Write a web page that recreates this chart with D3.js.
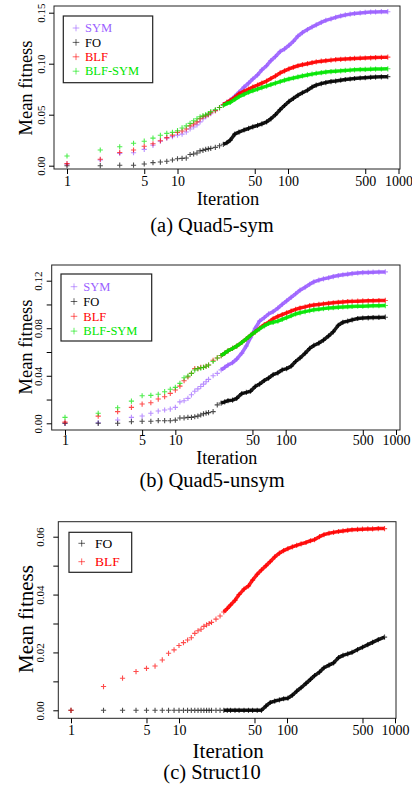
<!DOCTYPE html>
<html>
<head>
<meta charset="utf-8">
<title>Mean fitness per iteration</title>
<style>
  body { margin: 0; background: #fff; }
  svg text { font-family: "Liberation Serif", "Times New Roman", serif; fill: #000; }
</style>
</head>
<body>
<script src="https://cdn.jsdelivr.net/npm/d3@7"></script>
<script>
// iterations sampled (every one where the crosses are apart, sparser where they merge)
var iterations = [1,2,3,4,5,6,7,8,9,10,
    11,12,13,14,15,16,17,18,19,20,
    22,24,26,28,30,
    33,36,40,44,48,53,58,64,70,77,
    85,93,102,112,123,135,150,165,180,200,
    220,245,270,300,330,365,400,450,500,560,
    620,700,800];

var xTicks = [1, 5, 10, 50, 100, 500, 1000];

// (a) Quad5-sym
var quad5symSYM = [0.0015,0.0056,0.012,0.0127,0.016,0.020,0.024,0.027,0.0285,0.030,
    0.031,0.033,0.036,0.038,0.040,0.043,0.046,0.048,0.050,0.051,
    0.054,0.057,0.060,0.062,0.064,
    0.068,0.072,0.077,0.081,0.085,0.089,0.094,0.098,0.103,0.107,
    0.112,0.1145,0.118,0.122,0.127,0.1305,0.1335,0.136,0.138,0.1405,
    0.1425,0.144,0.1455,0.1468,0.1478,0.1486,0.1492,0.1498,0.1503,0.1506,
    0.1508,0.151,0.151];
var quad5symFO = [0,0,0.0005,0.0005,0.0017,0.003,0.0036,0.0043,0.0056,0.0068,
    0.0072,0.0075,0.011,0.0115,0.0125,0.0145,0.015,0.016,0.0165,0.017,
    0.018,0.0195,0.021,0.0225,0.025,
    0.031,0.033,0.035,0.0365,0.038,0.0395,0.041,0.043,0.046,0.050,
    0.055,0.059,0.063,0.066,0.069,0.0715,0.074,0.077,0.079,0.0805,
    0.0815,0.0825,0.083,0.0838,0.0845,0.085,0.0855,0.086,0.0863,0.0866,
    0.0869,0.0871,0.0873];
var quad5symBLF = [0.002,0.0063,0.013,0.0154,0.019,0.0215,0.0245,0.0275,0.030,0.0327,
    0.034,0.036,0.039,0.041,0.043,0.046,0.048,0.049,0.050,0.052,
    0.054,0.057,0.060,0.062,0.064,
    0.067,0.0705,0.073,0.075,0.077,0.079,0.081,0.083,0.0855,0.088,
    0.091,0.093,0.095,0.0965,0.098,0.099,0.100,0.101,0.1018,0.1025,
    0.103,0.1035,0.104,0.1043,0.1046,0.1049,0.1052,0.1054,0.1056,0.1058,
    0.106,0.1062,0.1064];
var quad5symBLFSYM = [0.0095,0.0154,0.0186,0.022,0.024,0.027,0.0298,0.0317,0.0327,0.0343,
    0.037,0.039,0.0415,0.044,0.046,0.048,0.049,0.050,0.051,0.053,
    0.055,0.057,0.059,0.061,0.062,
    0.065,0.0676,0.070,0.072,0.0735,0.075,0.0765,0.078,0.0795,0.081,
    0.0825,0.0838,0.085,0.086,0.087,0.088,0.089,0.0898,0.0905,0.0912,
    0.0918,0.0923,0.0927,0.093,0.0934,0.0937,0.094,0.0942,0.0944,0.0946,
    0.0947,0.0948,0.095];

// (b) Quad5-unsym
var quad5unsymSYM = [0,0.0005,0.0028,0.005,0.0061,0.0084,0.0103,0.0112,0.012,0.0134,
    0.018,0.019,0.021,0.024,0.027,0.029,0.031,0.033,0.035,0.037,
    0.040,0.042,0.045,0.047,0.049,
    0.051,0.054,0.059,0.065,0.072,0.080,0.086,0.089,0.092,0.094,
    0.097,0.100,0.103,0.106,0.109,0.112,0.1145,0.117,0.119,0.1205,
    0.1215,0.1225,0.1235,0.1243,0.125,0.1255,0.126,0.1265,0.1268,0.127,
    0.1272,0.1273,0.1274];
var quad5unsymFO = [0,0,0,0.0013,0.0017,0.0017,0.0022,0.0022,0.0022,0.0027,
    0.0045,0.0045,0.005,0.005,0.0055,0.006,0.007,0.008,0.0085,0.009,
    0.0098,0.0155,0.017,0.018,0.019,
    0.0195,0.021,0.025,0.026,0.027,0.031,0.033,0.036,0.038,0.041,
    0.0425,0.045,0.046,0.048,0.052,0.055,0.059,0.063,0.0655,0.0675,
    0.070,0.0735,0.077,0.0825,0.085,0.086,0.087,0.0882,0.0886,0.0888,
    0.089,0.0891,0.0893];
var quad5unsymBLF = [0.001,0.006,0.0098,0.0134,0.0162,0.0173,0.0204,0.0224,0.0252,0.028,
    0.0313,0.0358,0.039,0.042,0.046,0.046,0.047,0.047,0.048,0.049,
    0.053,0.055,0.057,0.059,0.061,
    0.063,0.065,0.068,0.071,0.074,0.077,0.080,0.083,0.085,0.088,
    0.090,0.0915,0.093,0.0945,0.0958,0.097,0.098,0.099,0.0995,0.100,
    0.1005,0.101,0.1014,0.1018,0.1021,0.1024,0.1026,0.1028,0.103,0.1031,
    0.1032,0.1033,0.1034];
var quad5unsymBLFSYM = [0.005,0.0084,0.0131,0.0187,0.0232,0.0235,0.0244,0.0266,0.0286,0.0302,
    0.0336,0.0383,0.0397,0.042,0.0448,0.046,0.0465,0.047,0.048,0.049,
    0.052,0.055,0.057,0.059,0.061,
    0.063,0.065,0.068,0.071,0.074,0.077,0.0795,0.082,0.084,0.085,
    0.086,0.0875,0.089,0.0905,0.092,0.093,0.094,0.0948,0.0955,0.096,
    0.0965,0.097,0.0973,0.0976,0.0979,0.0981,0.0983,0.0985,0.0986,0.0988,
    0.0989,0.099,0.0991];

// (c) Struct10
var struct10FO = [0,0,0,0,0,0,0,0,0,0,
    0,0,0,0,0,0,0,0,0,0,
    0,0,0,0,0,
    0,0,0,0,0,0,0,0.0015,0.0027,0.0032,
    0.0036,0.004,0.0042,0.0052,0.0066,0.0078,0.0093,0.0107,0.012,0.0132,
    0.0147,0.0156,0.0164,0.0182,0.019,0.0195,0.020,0.021,0.0218,0.0227,
    0.0235,0.0244,0.0253];
var struct10BLF = [0,0.0082,0.0111,0.0134,0.0145,0.0153,0.0174,0.0197,0.0209,0.0224,
    0.0234,0.0243,0.0251,0.0266,0.0275,0.028,0.029,0.0295,0.030,0.0304,
    0.0315,0.0326,0.034,0.0352,0.0364,
    0.038,0.040,0.0419,0.043,0.045,0.047,0.0485,0.050,0.0514,0.053,
    0.0543,0.0552,0.0559,0.0565,0.057,0.0575,0.058,0.0586,0.059,0.060,
    0.0607,0.0612,0.0615,0.0618,0.062,0.0622,0.0624,0.0625,0.0626,0.0627,
    0.0627,0.0628,0.0628];

var colors = { "SYM": "rgb(155,95,255)", "FO": "#000000", "BLF": "#ff0000", "BLF-SYM": "#00e600" };

// crosses merge into a band from here on
var denseFrom = 26;

var panels = [
    { caption: "(a) Quad5-sym",
      series: [["SYM", quad5symSYM], ["FO", quad5symFO], ["BLF", quad5symBLF], ["BLF-SYM", quad5symBLFSYM]],
      yDomain: [0, 0.15], yTicks: [0, 0.05, 0.10, 0.15], yLabels: [0, 0.05, 0.10, 0.15],
      box: { l: 54, r: 400, t: 6, b: 169 }, yRange: [165.7, 12.7], xRange: [67, 398.5],
      ytx: 44.5, xtb: 186, titleX: 32, titleY: 88, titleFs: 18.5, iterFs: 18.5, iterY: 204.5, capY: 232,
      legend: { x: 63.3, y: 16, w: 89.4, h: 66.7, row0: 28, step: 14.4, mx: 76, tx: 85, fs: 12.5 } },
    { caption: "(b) Quad5-unsym",
      series: [["SYM", quad5unsymSYM], ["FO", quad5unsymFO], ["BLF", quad5unsymBLF], ["BLF-SYM", quad5unsymBLFSYM]],
      yDomain: [0, 0.12], yTicks: [0, 0.02, 0.04, 0.06, 0.08, 0.10, 0.12], yLabels: [0, 0.04, 0.08, 0.12],
      box: { l: 51.7, r: 400, t: 265, b: 430 }, yRange: [423.3, 280.7], xRange: [65, 396],
      ytx: 42, xtb: 444.5, titleX: 32, titleY: 347, titleFs: 18.5, iterFs: 18, iterY: 464, capY: 487,
      legend: { x: 61, y: 274, w: 90.7, h: 67, row0: 286.7, step: 14.8, mx: 74, tx: 83.3, fs: 12.5 } },
    { caption: "(c) Struct10",
      series: [["FO", struct10FO], ["BLF", struct10BLF]],
      yDomain: [0, 0.06], yTicks: [0, 0.01, 0.02, 0.03, 0.04, 0.05, 0.06], yLabels: [0, 0.02, 0.04, 0.06],
      box: { l: 58.3, r: 396, t: 521.7, b: 718.3 }, yRange: [710.3, 536.7], xRange: [71, 395],
      ytx: 44, xtb: 735.5, titleX: 33, titleY: 619, titleFs: 21, iterFs: 21, iterY: 757.5, capY: 779,
      legend: { x: 69, y: 532.3, w: 62.7, h: 40, row0: 543.3, step: 18.4, mx: 81.7, tx: 95, fs: 13.5 } }
];

function plus(r) {
    var p = d3.path();
    p.moveTo(-r, 0); p.lineTo(r, 0);
    p.moveTo(0, -r); p.lineTo(0, r);
    return p.toString();
}

var svg = d3.select("body").append("svg")
    .attr("width", 412)
    .attr("height", 787);

var fmt2 = d3.format(".2f");

panels.forEach(function(P) {
    var x = d3.scaleLog().domain([1, 1000]).range(P.xRange);
    var y = d3.scaleLinear().domain(P.yDomain).range(P.yRange);
    var g = svg.append("g");

    // points, drawn in legend order
    P.series.forEach(function(s) {
        var name = s[0], vals = s[1];
        var pts = iterations.map(function(it, i) { return { it: it, v: vals[i] }; });
        g.append("path")
            .datum(pts.filter(function(d) { return d.it >= denseFrom; }))
            .attr("fill", "none")
            .attr("stroke", colors[name])
            .attr("stroke-opacity", 0.9)
            .attr("stroke-width", 3.5)
            .attr("stroke-linejoin", "round")
            .attr("d", d3.line().x(function(d) { return x(d.it); }).y(function(d) { return y(d.v); }));
        g.selectAll(null).data(pts).enter().append("path")
            .attr("transform", function(d) { return "translate(" + x(d.it) + "," + y(d.v) + ")"; })
            .attr("d", plus(2.6))
            .attr("fill", "none")
            .attr("stroke", colors[name])
            .attr("stroke-opacity", 0.7)
            .attr("stroke-width", 1.1);
    });

    // frame
    g.append("rect")
        .attr("x", P.box.l).attr("y", P.box.t)
        .attr("width", P.box.r - P.box.l).attr("height", P.box.b - P.box.t)
        .attr("fill", "none").attr("stroke", "#222").attr("stroke-width", 1);

    // x axis
    var xfs = 14;
    var xAxis = g.append("g")
        .attr("transform", "translate(0," + P.box.b + ")")
        .call(d3.axisBottom(x).tickValues(xTicks).tickFormat(d3.format("d"))
            .tickSize(5).tickPadding(P.xtb - P.box.b - 5 - 0.71 * xfs));
    xAxis.select(".domain").remove();
    xAxis.selectAll("text").attr("font-size", xfs).attr("font-family", "Liberation Serif");

    // y axis, labels parallel to the axis
    var yfs = 11;
    var yAxis = g.append("g")
        .attr("transform", "translate(" + P.box.l + ",0)")
        .call(d3.axisLeft(y).tickValues(P.yTicks).tickSize(5)
            .tickFormat(function(d) {
                return P.yLabels.some(function(l) { return Math.abs(l - d) < 1e-9; }) ? fmt2(d) : "";
            }));
    yAxis.select(".domain").remove();
    yAxis.selectAll("text")
        .attr("x", null).attr("dy", null)
        .attr("text-anchor", "middle")
        .attr("font-size", yfs).attr("font-family", "Liberation Serif")
        .attr("transform", "translate(" + (P.ytx - P.box.l) + ",0) rotate(-90)");

    // titles
    g.append("text")
        .attr("transform", "translate(" + P.titleX + "," + P.titleY + ") rotate(-90)")
        .attr("text-anchor", "middle")
        .attr("font-size", P.titleFs)
        .text("Mean fitness");
    g.append("text")
        .attr("x", (P.box.l + P.box.r) / 2 + 1).attr("y", P.iterY)
        .attr("text-anchor", "middle")
        .attr("font-size", P.iterFs)
        .text("Iteration");
    g.append("text")
        .attr("x", 212).attr("y", P.capY)
        .attr("text-anchor", "middle")
        .attr("font-size", 20.5)
        .text(P.caption);

    // legend
    var L = P.legend;
    g.append("rect")
        .attr("x", L.x).attr("y", L.y).attr("width", L.w).attr("height", L.h)
        .attr("fill", "#fff").attr("stroke", "#222").attr("stroke-width", 1.2);
    P.series.forEach(function(s, k) {
        var cy = L.row0 + k * L.step;
        g.append("path")
            .attr("transform", "translate(" + L.mx + "," + cy + ")")
            .attr("d", plus(3.3))
            .attr("fill", "none")
            .attr("stroke", colors[s[0]])
            .attr("stroke-opacity", 0.6)
            .attr("stroke-width", 1);
        g.append("text")
            .attr("x", L.tx).attr("y", cy + L.fs * 0.34)
            .attr("font-size", L.fs)
            .style("fill", colors[s[0]])
            .text(s[0]);
    });
});
</script>
</body>
</html>
